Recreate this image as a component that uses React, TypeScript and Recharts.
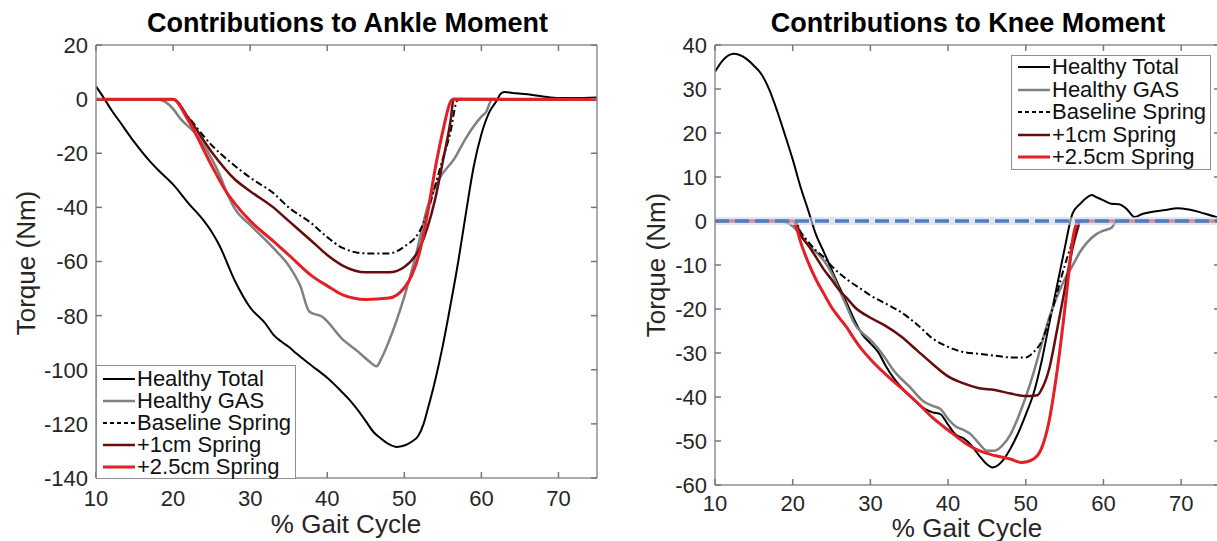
import React from 'react';
import { LineChart, Line, XAxis, YAxis, ReferenceLine } from 'recharts';

const FONT = "'Liberation Sans', Arial, Helvetica, sans-serif";

const seriesNames = ['Healthy Total', 'Healthy GAS', 'Baseline Spring', '+1cm Spring', '+2.5cm Spring'];
const xTicks = [10, 20, 30, 40, 50, 60, 70];
const ankleYTicks = [-140, -120, -100, -80, -60, -40, -20, 0, 20];
const kneeYTicks = [-60, -50, -40, -30, -20, -10, 0, 10, 20, 30, 40];

// ---- Ankle ----
const ankleTotalX = [10, 11, 12, 13, 15, 17, 18, 20, 22, 24, 25, 26, 28, 30, 32, 33, 34, 35, 36, 38, 40, 42, 43, 44, 45, 46, 47, 48, 49, 50, 51, 51.8, 52.5, 53, 54, 55, 56, 57, 58, 59, 60, 61, 62, 62.5, 63, 64, 66, 68, 70, 72, 75];
const ankleTotalY = [4.7, 0.5, -4, -8, -16, -23, -26, -31.5, -38.5, -45, -49, -54, -67, -77, -83, -87, -89.5, -91.5, -94, -98.5, -103, -108.5, -111.5, -115, -119, -123, -125.5, -127.5, -128.5, -128, -126.5, -124.5, -120, -115, -104, -91, -76, -60, -42, -25, -13, -5, -0.5, 2, 2.6, 2.3, 1.8, 1, 0.4, 0.4, 0.6];

const ankleGasX = [10, 18, 19, 20, 21, 23, 25, 26, 27, 28, 30, 33, 35, 36.5, 37.7, 39.4, 42, 44, 45.5, 46.4, 47, 48, 50, 51.5, 53, 54.5, 56.5, 58, 60, 60.6, 61.4, 75];
const ankleGasY = [0, 0, -1, -3.6, -7.4, -13, -22, -27.7, -34.7, -40.5, -46.5, -55, -61.5, -69, -78.6, -80.5, -88.8, -93.3, -97, -98.7, -96, -89.5, -73, -57.6, -40, -29.6, -22, -14.4, -6.5, -4.8, 0, 0];

const ankleBaseX = [10, 20, 22, 25, 28, 30, 33, 35, 38, 40, 42, 45, 48, 50, 52, 53, 54, 55, 56, 56.7, 57, 75];
const ankleBaseY = [0, 0, -6.7, -17, -24.6, -29, -34.7, -40, -46, -51, -55, -57, -57, -54.5, -48.7, -42, -32, -22, -12, -1.7, 0, 0];

const ankle1cmX = [10, 20, 22, 25, 28, 30, 33, 35, 38, 40, 42, 45, 48, 50, 52, 53, 54, 55, 56, 56.4, 75];
const ankle1cmY = [0, 0, -7, -19.5, -29.6, -34, -40, -45, -52.5, -57.6, -61.5, -64, -64, -62, -55, -47.5, -37, -23, -8, 0, 0];

const ankle25X = [10, 20, 22, 25, 27, 28, 30, 33, 35, 38, 40, 42, 45, 48, 50, 51, 52, 53, 54, 55, 56, 56.3, 75];
const ankle25Y = [0, 0, -8, -24.5, -34.7, -38.5, -45, -52.5, -57.6, -65.3, -69, -72.3, -74, -73.5, -69.7, -65, -56.4, -42.4, -25.8, -11.8, -1, 0, 0];

// ---- Knee ----
const kneeTotalX = [10, 11, 12.4, 14, 15, 16, 17, 18, 19, 20, 21, 22, 23, 24, 25, 26, 27, 28, 29, 30, 31, 32, 33, 35, 37, 38, 39, 40, 41, 42, 43, 44, 45, 45.7, 47, 48, 49, 50, 51, 52, 53, 54, 55, 56, 57, 58, 58.5, 59, 60, 61, 62, 63, 64, 65, 66, 68, 69.5, 71, 73, 75];
const kneeTotalY = [33.9, 36.5, 38, 36.9, 35.3, 33.3, 29.8, 25, 19.6, 14, 7.8, 2.4, -3.1, -7, -11, -15, -18.8, -22.7, -25.9, -27.8, -29.8, -33, -35.7, -39.6, -42.7, -43.5, -43.9, -46.3, -48.6, -49.4, -51, -53.3, -55.3, -56, -54.5, -51.8, -48.3, -44, -39.2, -32.2, -23.5, -14.9, -6.3, 1.6, 3.9, 5.5, 5.9, 5.5, 4.7, 3.9, 3.8, 2.7, 0.9, 1.6, 2, 2.5, 2.9, 2.6, 1.7, 0.6];

const kneeGasX = [10, 18.5, 20, 21, 22, 23, 24, 25, 26, 27, 28, 29, 30, 31, 32, 33, 35, 37, 38, 39, 40, 41, 42, 43, 44, 45, 46, 47, 48, 49, 50, 51, 52, 53, 54, 55, 56, 57, 58, 59, 60, 61, 61.5, 62, 75];
const kneeGasY = [0, 0, -1.2, -3.1, -5.5, -7, -9, -11.8, -15.7, -19.6, -23.5, -25.5, -27, -29, -31.4, -34, -37.6, -41.2, -42, -42.7, -45, -46.7, -47.5, -48.6, -50.6, -52.2, -52.2, -51, -48.6, -44.7, -40, -34.5, -28.2, -22, -17.3, -13.3, -10.2, -7, -4.7, -3.1, -2.2, -1.6, -0.4, 0, 0];

const kneeBaseX = [10, 20.3, 21, 22, 23, 24, 25, 27, 29, 30, 32, 34, 36, 38, 40, 42, 44, 46, 48, 50, 51, 52, 53, 54, 55, 56, 56.7, 57, 75];
const kneeBaseY = [0, 0, -2.4, -4.7, -6.7, -8.2, -10.2, -13.3, -15.7, -16.9, -18.8, -20.8, -23.5, -26.7, -28.6, -29.8, -30.2, -30.6, -31, -31, -29.8, -27.5, -22.7, -16.5, -10.2, -4.7, -0.8, 0, 0];

const knee1cmX = [10, 20.3, 21, 22, 23, 24, 25, 26, 27, 28, 30, 32, 34, 36, 38, 40, 42, 44, 46, 48, 50, 51.5, 52, 53, 54, 55, 56, 56.7, 57, 75];
const knee1cmY = [0, 0, -3.1, -5.5, -8.2, -11, -13.3, -15.7, -17.6, -19.6, -22, -23.9, -26.3, -29.4, -32.5, -35.3, -36.9, -38, -38.4, -39.2, -39.8, -39.6, -38.4, -33.7, -25, -15.7, -6.3, -1.6, 0, 0];

const knee25X = [10, 20, 20.5, 21, 22, 23, 24, 25, 26, 27, 28, 29, 30, 32, 34, 36, 38, 40, 42, 44, 46, 48, 49.5, 51, 52, 53, 54, 55, 55.5, 56, 56.5, 57, 75];
const knee25Y = [0, 0, -1.6, -4.7, -9.4, -13.3, -16.5, -19.6, -22, -24.3, -27, -29.4, -31.4, -34.9, -38, -41.2, -44.7, -47.5, -50.2, -52.2, -53.3, -54.1, -54.9, -54.1, -51.8, -45.5, -34.5, -20.4, -12.5, -4.7, -0.8, 0, 0];

const zip = (xs: number[], ys: number[]) => xs.map((x, i) => ({ x, y: ys[i] }));

const STYLES = [
  { stroke: '#000000', width: 2, dash: undefined as string | undefined },
  { stroke: '#808080', width: 2.5, dash: undefined },
  { stroke: '#000000', width: 2, dash: '7 3 2 3' },
  { stroke: '#650d0d', width: 2.5, dash: undefined },
  { stroke: '#e41f26', width: 3, dash: undefined },
];

const AXIS = '#8f8f8f';
const TICK_LEN = 6;
const TXT = { fill: '#262626', fontSize: 22, fontFamily: FONT };

// Custom ticks: draw inward tick marks (MATLAB style) plus optional label.
const makeTick = (side: 'bottom' | 'top' | 'left' | 'right', m: number, show: boolean) => (props: any) => {
  const { x, y, payload } = props;
  let line: React.ReactNode = null;
  let label: React.ReactNode = null;
  if (side === 'bottom') {
    const ay = y - m;
    line = <line x1={x} x2={x} y1={ay} y2={ay - TICK_LEN} stroke="#777" strokeWidth={1.5} />;
    if (show) label = <text x={x} y={y} dy="0.72em" textAnchor="middle" {...TXT}>{payload.value}</text>;
  } else if (side === 'top') {
    const ay = y + m;
    line = <line x1={x} x2={x} y1={ay} y2={ay + TICK_LEN} stroke="#777" strokeWidth={1.5} />;
  } else if (side === 'left') {
    const ax = x + m;
    line = <line x1={ax} x2={ax + TICK_LEN} y1={y} y2={y} stroke="#777" strokeWidth={1.5} />;
    if (show) label = <text x={x} y={y} dy="0.36em" textAnchor="end" {...TXT}>{payload.value}</text>;
  } else {
    const ax = x - m;
    line = <line x1={ax} x2={ax - TICK_LEN} y1={y} y2={y} stroke="#777" strokeWidth={1.5} />;
  }
  return <g>{line}{label}</g>;
};

type PanelProps = {
  left: number; width: number; margin: any; yDomain: [number, number]; yTicks: number[];
  series: { x: number[]; y: number[] }[]; zeroLine?: boolean; xGap: number; yGap: number;
};

function Panel({ left, width, margin, yDomain, yTicks, series, zeroLine, xGap, yGap }: PanelProps) {
  return (
    <div style={{ position: 'absolute', left, top: 0, width, height: 541 }}>
      <LineChart width={width} height={541} margin={margin}>
        <XAxis xAxisId="b" type="number" dataKey="x" domain={[10, 75]} allowDataOverflow ticks={xTicks}
          height={30} tickSize={0} tickLine={false} tickMargin={xGap} stroke={AXIS} strokeWidth={1.5}
          tick={makeTick('bottom', xGap, true)} interval={0} />
        <XAxis xAxisId="t" orientation="top" type="number" dataKey="x" domain={[10, 75]} allowDataOverflow ticks={xTicks}
          height={1} tickSize={0} tickLine={false} tickMargin={2} stroke={AXIS} strokeWidth={1.5}
          tick={makeTick('top', 2, false)} interval={0} />
        <YAxis yAxisId="l" type="number" domain={yDomain} allowDataOverflow ticks={yTicks}
          width={60} tickSize={0} tickLine={false} tickMargin={yGap} stroke={AXIS} strokeWidth={1.5}
          tick={makeTick('left', yGap, true)} interval={0} />
        <YAxis yAxisId="r" orientation="right" type="number" domain={yDomain} allowDataOverflow ticks={yTicks}
          width={1} tickSize={0} tickLine={false} tickMargin={2} stroke={AXIS} strokeWidth={1.5}
          tick={makeTick('right', 2, false)} interval={0} />
        <Line xAxisId="t" yAxisId="r" data={zip(series[0].x, series[0].y)} dataKey="y" stroke="none"
          dot={false} activeDot={false} isAnimationActive={false} />
        {series.map((s, i) => (
          <Line key={i} xAxisId="b" yAxisId="l" data={zip(s.x, s.y)} dataKey="y" name={seriesNames[i]}
            type="monotone" stroke={STYLES[i].stroke} strokeWidth={STYLES[i].width}
            strokeDasharray={STYLES[i].dash} dot={false} activeDot={false} isAnimationActive={false} />
        ))}
        {zeroLine && (
          <ReferenceLine xAxisId="b" yAxisId="l" y={0} stroke="#c9d6ea" strokeWidth={8} strokeOpacity={0.6} />
        )}
        {zeroLine && (
          <ReferenceLine xAxisId="b" yAxisId="l" y={0} stroke="#4f7fc0" strokeWidth={3.5} strokeDasharray="14 6" />
        )}
      </LineChart>
    </div>
  );
}

function LegendBox({ left, top, width, height, rowH, firstY }: { left: number; top: number; width: number; height: number; rowH: number; firstY: number }) {
  return (
    <div style={{ position: 'absolute', left, top, width, height, background: '#fff', border: '1.5px solid #8f8f8f', boxSizing: 'border-box' }}>
      {seriesNames.map((n, i) => (
        <div key={n} style={{ position: 'absolute', left: 0, top: firstY + i * rowH - 10, height: 20, display: 'flex', alignItems: 'center' }}>
          <svg width={40} height={20} style={{ display: 'block' }}>
            <line x1={6} x2={38} y1={10} y2={10} stroke={STYLES[i].stroke} strokeWidth={STYLES[i].width}
              strokeDasharray={STYLES[i].dash ? '4 3' : undefined} />
          </svg>
          <span style={{ fontSize: 22, fontFamily: FONT, color: '#111', lineHeight: '20px', whiteSpace: 'nowrap' }}>{n}</span>
        </div>
      ))}
    </div>
  );
}

const titleStyle: React.CSSProperties = { position: 'absolute', top: 10, fontSize: 27, fontWeight: 'bold', fontFamily: FONT, lineHeight: '27px', textAlign: 'center', color: '#000', whiteSpace: 'nowrap' };
const xLabelStyle: React.CSSProperties = { position: 'absolute', fontSize: 26, fontFamily: FONT, lineHeight: '20px', textAlign: 'center', color: '#262626', whiteSpace: 'nowrap' };
const yLabelStyle = (cx: number, cy: number): React.CSSProperties => ({
  position: 'absolute', left: cx - 100, top: cy - 13, width: 200, fontSize: 26, fontFamily: FONT, lineHeight: '26px',
  textAlign: 'center', color: '#262626', transform: 'rotate(-90deg)', whiteSpace: 'nowrap',
});

export default function App() {
  const ankleSeries = [
    { x: ankleTotalX, y: ankleTotalY },
    { x: ankleGasX, y: ankleGasY },
    { x: ankleBaseX, y: ankleBaseY },
    { x: ankle1cmX, y: ankle1cmY },
    { x: ankle25X, y: ankle25Y },
  ];
  const kneeSeries = [
    { x: kneeTotalX, y: kneeTotalY },
    { x: kneeGasX, y: kneeGasY },
    { x: kneeBaseX, y: kneeBaseY },
    { x: knee1cmX, y: knee1cmY },
    { x: knee25X, y: knee25Y },
  ];
  return (
    <div style={{ position: 'absolute', left: 0, top: 0, width: 1217, height: 541, overflow: 'hidden', background: '#fff' }}>
      <Panel left={0} width={610} margin={{ top: 44, right: 12, bottom: 33, left: 36 }} yDomain={[-140, 20]} yTicks={ankleYTicks} series={ankleSeries} xGap={12} yGap={8} />
      <Panel left={610} width={620} margin={{ top: 44, right: 9, bottom: 26, left: 45 }} yDomain={[-60, 40]} yTicks={kneeYTicks} series={kneeSeries} zeroLine xGap={10} yGap={8} />
      <div style={{ ...titleStyle, left: 147, width: 400 }}>Contributions to Ankle Moment</div>
      <div style={{ ...titleStyle, left: 768, width: 400 }}>Contributions to Knee Moment</div>
      <div style={{ ...xLabelStyle, left: 246, top: 514, width: 200 }}>% Gait Cycle</div>
      <div style={{ ...xLabelStyle, left: 867, top: 518, width: 200 }}>% Gait Cycle</div>
      <div style={yLabelStyle(26, 263)}>Torque (Nm)</div>
      <div style={yLabelStyle(656, 265)}>Torque (Nm)</div>
      <LegendBox left={96} top={365} width={200} height={114} rowH={22} firstY={13} />
      <LegendBox left={1011} top={55} width={200} height={115} rowH={22.6} firstY={11} />
    </div>
  );
}
